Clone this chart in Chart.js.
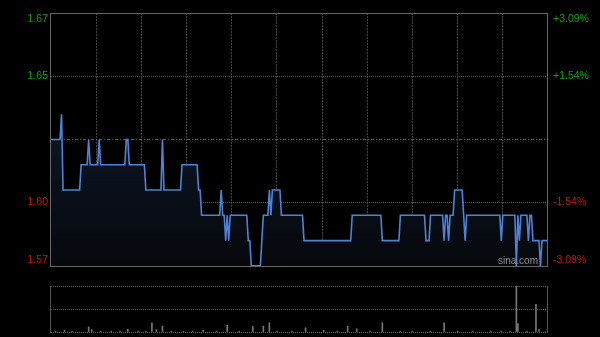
<!DOCTYPE html>
<html>
<head>
<meta charset="utf-8">
<script src="https://cdn.jsdelivr.net/npm/chart.js@4.4.0/dist/chart.umd.min.js"></script>
<style>
    html, body { margin: 0; padding: 0; background: #000; }
    #wrap { position: relative; width: 600px; height: 337px; background: #000; overflow: hidden; }
    canvas { position: absolute; left: 0; }
</style>
</head>
<body>
<div id="wrap">
    <canvas id="priceChart" width="600" height="272" style="top:0"></canvas>
    <canvas id="volChart" width="600" height="57" style="top:280px"></canvas>
</div>
<script>
// gia dong cua hom truoc va cac muc phan tram
var prevClose = 1.62;
var pctLevels = [-3.09, -1.54, 1.54, 3.09];
var leftLabels = ['1.57', '1.60', '1.65', '1.67'];
var rightLabels = ['-3.09%', '-1.54%', '+1.54%', '+3.09%'];
// moc luoi doc, moi 30 phut (9:30 - 16:00, nghi trua)
var gridMinutes = [0, 30, 60, 90, 120, 150, 180, 210, 240, 270, 300, 330];

// gia theo tung phut, 331 diem
var prices = [
    1.62, 1.62, 1.62, 1.62, 1.62, 1.62, 1.62, 1.63,
    1.60, 1.60, 1.60, 1.60, 1.60, 1.60, 1.60, 1.60, 1.60, 1.60, 1.60, 1.60,
    1.61, 1.61, 1.61, 1.61, 1.61, 1.62, 1.61, 1.61, 1.61, 1.61, 1.61, 1.61, 1.62,
    1.61, 1.61, 1.61, 1.61, 1.61, 1.61, 1.61, 1.61, 1.61, 1.61, 1.61, 1.61, 1.61, 1.61, 1.61, 1.61, 1.61,
    1.62, 1.62,
    1.61, 1.61, 1.61, 1.61, 1.61, 1.61, 1.61, 1.61, 1.61, 1.61, 1.61,
    1.60, 1.60, 1.60, 1.60, 1.60, 1.60, 1.60, 1.60, 1.60, 1.60, 1.60,
    1.62,
    1.60, 1.60, 1.60, 1.60, 1.60, 1.60, 1.60, 1.60, 1.60, 1.60, 1.60, 1.60,
    1.61, 1.61, 1.61, 1.61, 1.61, 1.61, 1.61, 1.61, 1.61, 1.61, 1.61,
    1.60, 1.60,
    1.59, 1.59, 1.59, 1.59, 1.59, 1.59, 1.59, 1.59, 1.59, 1.59, 1.59, 1.59, 1.59,
    1.60, 1.59, 1.59, 1.58, 1.59, 1.58,
    1.59, 1.59, 1.59, 1.59, 1.59, 1.59, 1.59, 1.59, 1.59, 1.59, 1.59, 1.59,
    1.58, 1.58,
    1.57, 1.57, 1.57, 1.57, 1.57, 1.57, 1.57,
    1.58, 1.59, 1.59, 1.59, 1.59, 1.60, 1.59,
    1.60, 1.60, 1.60, 1.60, 1.60, 1.60,
    1.59, 1.59, 1.59, 1.59, 1.59, 1.59, 1.59, 1.59, 1.59, 1.59, 1.59, 1.59, 1.59, 1.59, 1.59,
    1.58, 1.58, 1.58, 1.58, 1.58, 1.58, 1.58, 1.58, 1.58, 1.58, 1.58, 1.58, 1.58, 1.58, 1.58, 1.58,
    1.58, 1.58, 1.58, 1.58, 1.58, 1.58, 1.58, 1.58, 1.58, 1.58, 1.58, 1.58, 1.58, 1.58, 1.58, 1.58,
    1.59, 1.59, 1.59, 1.59, 1.59, 1.59, 1.59, 1.59, 1.59, 1.59, 1.59, 1.59, 1.59, 1.59, 1.59, 1.59, 1.59, 1.59, 1.59, 1.59,
    1.58, 1.58, 1.58, 1.58, 1.58, 1.58, 1.58, 1.58, 1.58, 1.58, 1.58, 1.58,
    1.59, 1.59, 1.59, 1.59, 1.59, 1.59, 1.59, 1.59, 1.59, 1.59, 1.59, 1.59, 1.59, 1.59, 1.59, 1.59, 1.59,
    1.58, 1.58, 1.58,
    1.59, 1.59, 1.59, 1.59, 1.59, 1.59, 1.59, 1.59, 1.59,
    1.58, 1.59, 1.59, 1.58, 1.59, 1.59, 1.59,
    1.60, 1.60, 1.60, 1.60, 1.60, 1.60,
    1.59, 1.58,
    1.59, 1.59, 1.59, 1.59, 1.59, 1.59, 1.59, 1.59, 1.59, 1.59, 1.59, 1.59,
    1.59, 1.59, 1.59, 1.59, 1.59, 1.59, 1.59, 1.59, 1.59, 1.59, 1.59,
    1.58,
    1.59, 1.59, 1.59, 1.59, 1.59, 1.59, 1.59, 1.59, 1.59,
    1.57, 1.59, 1.58,
    1.59, 1.59, 1.59, 1.59, 1.59,
    1.58, 1.59, 1.59,
    1.58, 1.58, 1.58, 1.58, 1.58,
    1.57,
    1.58, 1.58, 1.58, 1.58, 1.58
];

// khoi luong: phut co giao dich va so luong (don vi tuong doi)
var volMinutes = [3, 9, 14, 25, 27, 33, 40, 46, 51, 58, 63, 67, 70, 74, 80, 88, 94, 101, 110, 117,
    125, 134, 141, 145, 150, 160, 169, 181, 190, 197, 203, 212, 220, 232, 240, 252, 261, 270, 280, 292,
    299, 305, 309, 310, 316, 322, 324, 330];
var volAmounts = [2, 4, 2, 11, 5, 2, 2, 2, 6, 2, 2, 20, 5, 13, 2, 2, 2, 4, 2, 15,
    2, 12, 13, 20, 2, 2, 9, 4, 2, 12, 7, 2, 20, 2, 2, 2, 20, 2, 2, 2,
    2, 2, 100, 18, 2, 60, 5, 5];

var priceLo = prevClose * (1 + pctLevels[0] / 100);
var priceHi = prevClose * (1 + pctLevels[3] / 100);
var priceTicks = pctLevels.map(p => prevClose * (1 + p / 100));
var labelColors = ['#c81414', '#c81414', '#11a011', '#11a011'];

var priceData = prices.map((v, i) => ({x: i, y: v}));
var volData = volMinutes.map((m, i) => ({x: m, y: volAmounts[i]}));

var edgeHidden = function (ctx, n) {
    return (ctx.index === 0 || ctx.index === n - 1) ? 'rgba(0,0,0,0)' : null;
};

// ve khung va nhan hai ben
const priceDecor = {
    id: 'priceDecor',
    afterDatasetsDraw(chart) {
        const c = chart.ctx;
        const a = chart.chartArea;
        const y = chart.scales.y;
        c.save();
        c.strokeStyle = '#666';
        c.lineWidth = 1;
        c.strokeRect(a.left - 0.5, a.top + 0.5, a.right - a.left, a.bottom - a.top);

        c.font = '10.5px "Liberation Sans", Arial, sans-serif';
        c.textBaseline = 'middle';
        for (let i = 0; i < priceTicks.length; i++) {
            let py = y.getPixelForValue(priceTicks[i]);
            if (i === 0) py = a.bottom - 6;
            if (i === priceTicks.length - 1) py = a.top + 6;
            c.fillStyle = labelColors[i];
            c.textAlign = 'right';
            c.fillText(leftLabels[i], a.left - 3, py);
            c.textAlign = 'left';
            c.fillText(rightLabels[i], a.right + 5, py);
        }
        c.fillStyle = '#8c8c8c';
        c.font = '10px "Liberation Sans", Arial, sans-serif';
        c.textAlign = 'right';
        c.textBaseline = 'alphabetic';
        c.fillText('sina.com', a.right - 10, a.bottom - 2);
        c.restore();
    }
};

var priceCtx = document.getElementById('priceChart');
var priceChart = new Chart(priceCtx, {
    type: 'line',
    data: {
        datasets: [{
            data: priceData,
            borderColor: '#4d83d6',
            borderWidth: 1.6,
            pointRadius: 0,
            tension: 0,
            fill: 'start',
            backgroundColor: function (ctx) {
                const chart = ctx.chart;
                const a = chart.chartArea;
                if (!a) return 'rgba(16,28,50,0.6)';
                const g = chart.ctx.createLinearGradient(0, a.top, 0, a.bottom);
                g.addColorStop(0, 'rgb(18,32,58)');
                g.addColorStop(1, 'rgb(6,8,12)');
                return g;
            }
        }]
    },
    options: {
        responsive: false,
        animation: false,
        devicePixelRatio: 1,
        layout: {padding: {left: 51, right: 52, top: 13, bottom: 6}},
        plugins: {legend: {display: false}, tooltip: {enabled: false}},
        scales: {
            x: {
                type: 'linear', min: 0, max: 330,
                afterBuildTicks: axis => { axis.ticks = gridMinutes.map(v => ({value: v})); },
                ticks: {display: false},
                grid: {
                    drawTicks: false,
                    color: ctx => edgeHidden(ctx, gridMinutes.length) || '#404040'
                },
                border: {display: false, dash: [2, 1]}
            },
            y: {
                min: priceLo, max: priceHi,
                afterBuildTicks: axis => { axis.ticks = priceTicks.map(v => ({value: v})); },
                ticks: {display: false},
                grid: {
                    drawTicks: false,
                    color: ctx => edgeHidden(ctx, priceTicks.length) || '#575757'
                },
                border: {display: false, dash: [1, 1]}
            },
            yMid: {
                position: 'left',
                min: priceLo, max: priceHi,
                afterBuildTicks: axis => { axis.ticks = [{value: prevClose}]; },
                ticks: {display: false},
                grid: {drawTicks: false, color: '#5c5c5c'},
                border: {display: false, dash: [3, 2, 1, 2]}
            }
        }
    },
    plugins: [priceDecor]
});

const volDecor = {
    id: 'volDecor',
    afterDatasetsDraw(chart) {
        const c = chart.ctx;
        const a = chart.chartArea;
        c.save();
        c.strokeStyle = '#555';
        c.lineWidth = 1;
        c.beginPath();
        c.moveTo(a.left - 0.5, a.top);
        c.lineTo(a.left - 0.5, a.bottom + 1);
        c.moveTo(a.right - 0.5, a.top);
        c.lineTo(a.right - 0.5, a.bottom + 1);
        c.stroke();
        c.restore();
    }
};

var volChart = new Chart(document.getElementById('volChart'), {
    type: 'bar',
    data: {
        datasets: [{
            data: volData,
            backgroundColor: '#777',
            borderWidth: 0,
            barThickness: 1
        }]
    },
    options: {
        responsive: false,
        animation: false,
        devicePixelRatio: 1,
        layout: {padding: {left: 51, right: 52, top: 6, bottom: 5}},
        plugins: {legend: {display: false}, tooltip: {enabled: false}},
        scales: {
            x: {
                type: 'linear', min: 0, max: 330, offset: false,
                ticks: {display: false},
                grid: {display: false, drawTicks: false},
                border: {display: false}
            },
            y: {
                min: 0, max: 100,
                afterBuildTicks: axis => { axis.ticks = [0, 50, 100].map(v => ({value: v})); },
                ticks: {display: false},
                grid: {drawTicks: false, color: ctx => ctx.index === 0 ? '#666' : '#555'},
                border: {display: false, dash: [1, 1]}
            }
        }
    },
    plugins: [volDecor]
});
</script>
</body>
</html>
